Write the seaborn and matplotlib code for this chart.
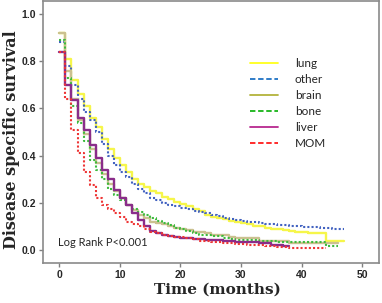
import numpy as np
import pandas as pd
import matplotlib
matplotlib.use("Agg")
import matplotlib.pyplot as plt
from matplotlib.lines import Line2D
import seaborn as sns

# --- DATA (monthly disease specific survival) ---
sites = ["lung", "other", "brain", "bone", "liver", "MOM"]

lung = [0.92, 0.81, 0.72, 0.66, 0.61, 0.56, 0.52, 0.47, 0.43, 0.39,
        0.36, 0.33, 0.30, 0.28, 0.265, 0.25, 0.24, 0.225, 0.215, 0.205,
        0.195, 0.185, 0.175, 0.165, 0.15, 0.14, 0.135, 0.13, 0.125, 0.12,
        0.115, 0.11, 0.10, 0.10, 0.095, 0.09, 0.088, 0.085, 0.082, 0.078,
        0.076, 0.072, 0.072, 0.072, 0.04, 0.04, 0.04, 0.04]
other = [0.88, 0.78, 0.70, 0.64, 0.585, 0.55, 0.50, 0.45, 0.40, 0.36,
         0.33, 0.31, 0.28, 0.26, 0.24, 0.22, 0.21, 0.20, 0.19, 0.185,
         0.18, 0.172, 0.166, 0.16, 0.155, 0.15, 0.142, 0.136, 0.13, 0.126,
         0.122, 0.12, 0.118, 0.115, 0.112, 0.11, 0.107, 0.104, 0.102, 0.10,
         0.098, 0.097, 0.096, 0.095, 0.092, 0.09, 0.09, 0.09]
brain = [0.92, 0.76, 0.64, 0.55, 0.49, 0.43, 0.37, 0.32, 0.28, 0.25,
         0.22, 0.19, 0.17, 0.15, 0.135, 0.12, 0.115, 0.11, 0.10, 0.095,
         0.09, 0.085, 0.078, 0.075, 0.072, 0.065, 0.064, 0.062, 0.055, 0.052,
         0.052, 0.052, 0.052, 0.04, 0.038, 0.038, 0.038, 0.038, 0.028, 0.028,
         0.028, 0.028, 0.028, 0.028, 0.028, 0.028, 0.028]
bone = [0.89, 0.73, 0.61, 0.54, 0.46, 0.38, 0.34, 0.30, 0.26, 0.235,
        0.21, 0.19, 0.175, 0.16, 0.148, 0.135, 0.125, 0.115, 0.105, 0.095,
        0.088, 0.08, 0.072, 0.065, 0.062, 0.06, 0.058, 0.05, 0.046, 0.044,
        0.043, 0.042, 0.041, 0.039, 0.038, 0.037, 0.036, 0.035, 0.034, 0.033,
        0.033, 0.033, 0.033, 0.033, 0.018, 0.018, 0.018]
liver = [0.84, 0.70, 0.635, 0.56, 0.51, 0.445, 0.39, 0.34, 0.30, 0.255,
         0.22, 0.19, 0.157, 0.127, 0.10, 0.08, 0.07, 0.062, 0.058, 0.055,
         0.052, 0.049, 0.047, 0.045, 0.044, 0.043, 0.042, 0.04, 0.038, 0.036,
         0.035, 0.034, 0.032, 0.03, 0.028, 0.022, 0.02, 0.018, 0.017]
mom = [0.84, 0.64, 0.51, 0.41, 0.33, 0.275, 0.22, 0.19, 0.175, 0.157,
       0.14, 0.12, 0.11, 0.10, 0.09, 0.076, 0.07, 0.065, 0.06, 0.057,
       0.055, 0.05, 0.045, 0.04, 0.037, 0.035, 0.033, 0.03, 0.028, 0.027,
       0.025, 0.023, 0.022, 0.02, 0.018, 0.016, 0.014, 0.012, 0.01, 0.01,
       0.01, 0.01, 0.01, 0.01, 0.01]

x_ticks = [0, 10, 20, 30, 40, 50]
y_ticks = [0.0, 0.2, 0.4, 0.6, 0.8, 1.0]

# --- STYLE ---
line_colors = {"lung": "#F6F64A", "other": "#4262C0", "brain": "#CBC190",
               "bone": "#3DBB3D", "liver": "#8A2C8A", "MOM": "#EE3535"}
legend_colors = {"lung": "#FFFF1A", "other": "#1F72C4", "brain": "#B3B33C",
                 "bone": "#17B317", "liver": "#B8288F", "MOM": "#FF1A1A"}
dashed = {"lung": False, "other": True, "brain": False,
          "bone": True, "liver": False, "MOM": True}

rows = []
for name, vals in zip(sites, [lung, other, brain, bone, liver, mom]):
    for m, v in enumerate(vals):
        rows.append((name, m, v))
df = pd.DataFrame(rows, columns=["site", "month", "survival"])

sns.set_style("white")
fig = plt.figure(figsize=(3.82, 3.03), dpi=100)
ax = fig.add_axes([43 / 382, 40 / 303, 336 / 382, 262.5 / 303])

for name in sites:
    sub = df[df["site"] == name]
    ls = (0, (1, 1)) if dashed[name] else "-"
    lw = 1.5 if dashed[name] else 1.7
    sns.lineplot(data=sub, x="month", y="survival", ax=ax, color=line_colors[name],
                 linewidth=lw, linestyle=ls, drawstyle="steps-post",
                 estimator=None, sort=False, legend=False)

ax.set_xlim(-2.7, 52.8)
ax.set_ylim(-0.055, 1.057)
ax.set_xticks(x_ticks)
ax.set_yticks(y_ticks)
ax.set_xticklabels([str(t) for t in x_ticks], fontsize=7.5, fontweight="bold",
                   family="Liberation Sans")
ax.set_yticklabels([f"{t:.1f}" for t in y_ticks], fontsize=7.5, fontweight="bold",
                   family="Liberation Sans")
ax.tick_params(axis="both", direction="out", length=3, width=1, color="#808080",
               pad=2, left=True, bottom=True)
for sp in ax.spines.values():
    sp.set_color("#8a8a8a")
    sp.set_linewidth(1.2)

ax.set_xlabel("Time (months)", fontsize=11, fontweight="bold", family="DejaVu Serif")
ax.set_ylabel("Disease specific survival", fontsize=11.5, fontweight="bold",
              family="DejaVu Serif")
ax.xaxis.set_label_coords(0.518, -0.103)
ax.xaxis.label.set_va("center")
ax.yaxis.set_label_coords(-0.094, 0.469)
ax.yaxis.label.set_va("center")

ax.text(-0.3, 0.03, "Log Rank P<0.001", fontsize=8, family="Lato",
        ha="left", va="center")

handles = [Line2D([], [], color=legend_colors[n], linewidth=1.3,
                  linestyle=(0, (3, 1.5)) if dashed[n] else "-") for n in sites]
ax.legend(handles, sites, loc="upper left", bbox_to_anchor=(0.616, 0.78),
          frameon=False, prop={"family": "Lato", "size": 8.5},
          handlelength=2.4, handletextpad=1.4, labelspacing=0.42,
          borderpad=0, borderaxespad=0)

fig.savefig("out.png", dpi=100)
